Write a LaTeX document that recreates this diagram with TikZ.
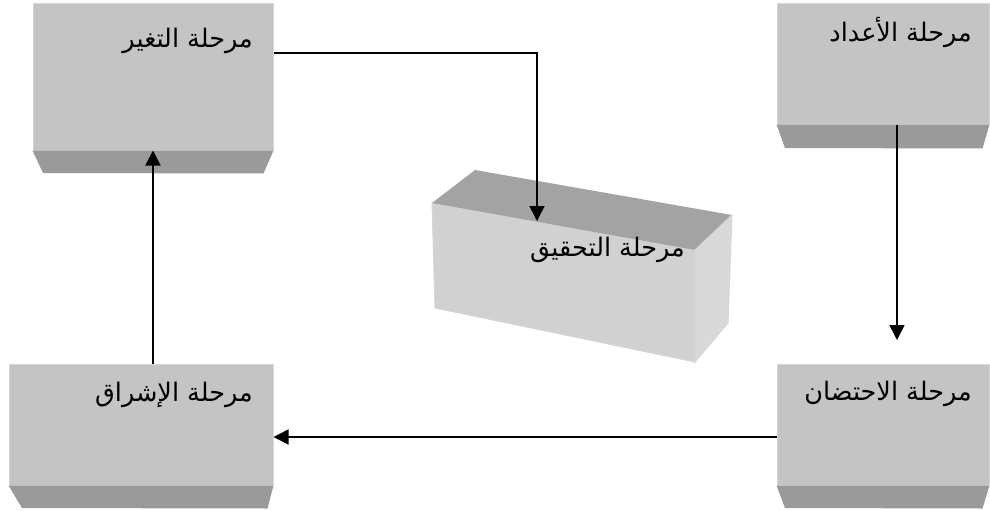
\documentclass[tikz,border=0pt]{standalone}
\usepackage{fontspec}
\TeXXeTstate=1
\newfontfamily\arabicfont[Script=Arabic]{DejaVu Sans}
\usetikzlibrary{arrows.meta}
\definecolor{facegray}{HTML}{C4C4C4}
\definecolor{basegray}{HTML}{9A9A9A}
\definecolor{edgegray}{HTML}{D6D6D6}
\definecolor{cubefront}{HTML}{D1D1D1}
\definecolor{cubetopc}{HTML}{A3A3A3}
\definecolor{cuberight}{HTML}{D9D9D9}
\tikzset{
  stagebox/.style={rectangle, fill=facegray, draw=edgegray, line width=1pt, inner sep=0pt},
  stagebase/.style={fill=basegray, draw=none},
  stagelbl/.style={anchor=east, inner sep=0pt, font=\arabicfont\fontsize{25.5}{30}\selectfont},
  flow/.style={draw=black, line width=1.6pt, -{Triangle[length=15pt,width=15pt]}},
}
\begin{document}
\begin{tikzpicture}[x=1pt,y=-1pt]
\useasboundingbox (0,0) rectangle (990,511);
% boxes (front faces)
\node[stagebox, minimum width=240pt, minimum height=146pt] (tl) at (153,77) {};
\node[stagebox, minimum width=212pt, minimum height=120pt] (tr) at (883,64) {};
\node[stagebox, minimum width=212pt, minimum height=121pt] (br) at (883,424.5) {};
\node[stagebox, minimum width=264pt, minimum height=121pt] (bl) at (141,424.5) {};
% bases (trapezoids)
\fill[stagebase] (tl.south west) -- (tl.south east) -- ++(-10,23) -- (43,173) -- cycle;
\fill[stagebase] (tr.south west) -- (tr.south east) -- ++(-7,24) -- (785,148) -- cycle;
\fill[stagebase] (br.south west) -- (br.south east) -- ++(-7,23) -- (785,508) -- cycle;
\fill[stagebase] (bl.south west) -- (bl.south east) -- ++(-6,23) -- (22,508) -- cycle;
% cuboid
\fill[cubefront, draw=edgegray, line width=1pt] (432,203) -- (695,250) -- (695,362) -- (435,308) -- cycle;
\fill[cubetopc] (432,203) -- (475,170) -- (732,215) -- (695,250) -- cycle;
\fill[cuberight, draw=edgegray, line width=1pt] (695,250) -- (732,215) -- (728,323) -- (695,362) -- cycle;
\coordinate (cubetop) at (537,221);
\coordinate (incabove) at (897,340);
% labels
\node[stagelbl] (tlT) at (253,41) {\beginR مرحلة التغير\endR};
\node[stagelbl] (trT) at (972,32) {\beginR مرحلة الأعداد\endR};
\node[stagelbl] (brT) at (972,394) {\beginR مرحلة الاحتضان\endR};
\node[stagelbl] (blT) at (253,395) {\beginR مرحلة الإشراق\endR};
\node[stagelbl] (cT) at (685,250) {\beginR مرحلة التحقيق\endR};
% connectors
\draw[flow] (tl.east |- 0,53) -| (cubetop);
\draw[flow] (tr.south -| 897,0) -- (incabove);
\draw[flow] (br.west |- 0,437) -- (bl.east |- 0,437);
\draw[flow] (bl.north -| 153,0) -- (tl.south -| 153,0);
\end{tikzpicture}
\end{document}
